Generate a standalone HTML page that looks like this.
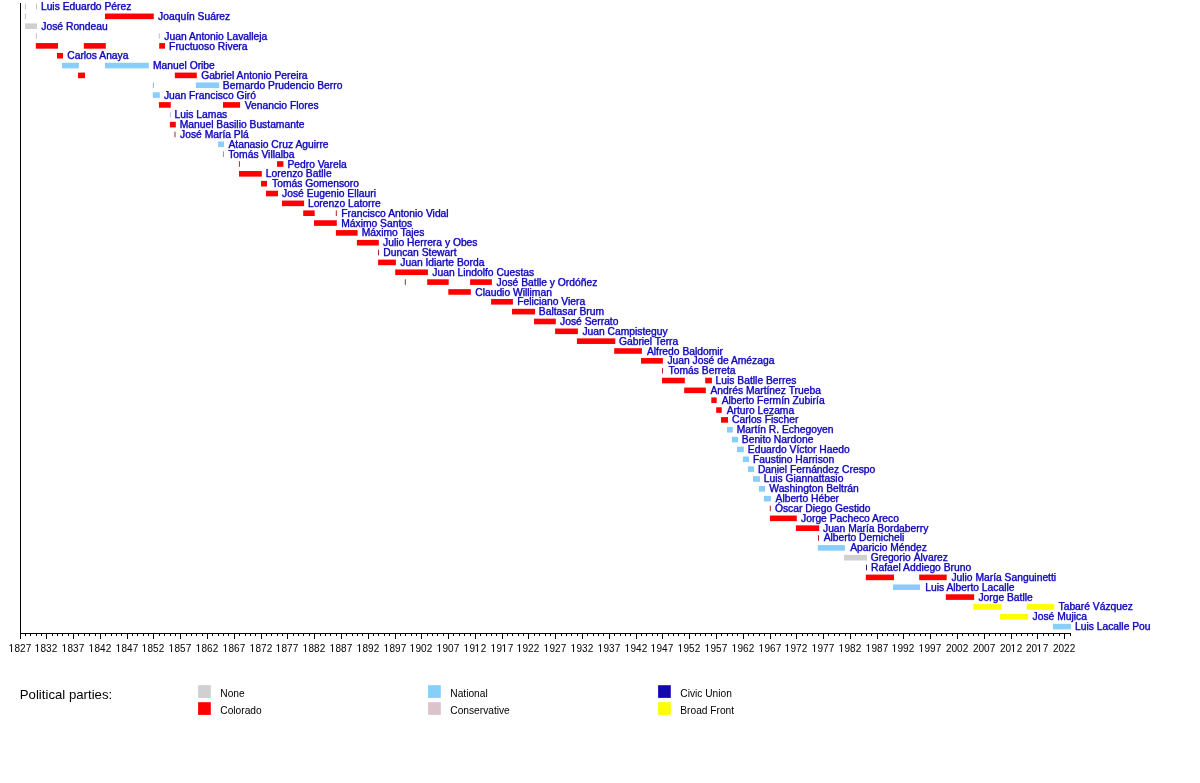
<!DOCTYPE html>
<html><head><meta charset="utf-8"><style>
html,body{margin:0;padding:0;background:#fff;width:1200px;height:783px;overflow:hidden}
body{position:relative;font-family:"Liberation Sans",sans-serif}
#w{position:absolute;left:0;top:0;width:1200px;height:783px;filter:blur(0.3px)}
.t{position:absolute;font-size:10.3px;line-height:12px;white-space:nowrap;color:#1408b4;-webkit-text-stroke:0.25px #1408b4;text-shadow:0 0 1px rgba(40,40,255,0.6)}
.y{position:absolute;font-size:10px;line-height:12px;white-space:nowrap;color:#000;width:40px;text-align:center}
.lg{position:absolute;font-size:10.2px;line-height:12px;white-space:nowrap;color:#000}
svg.bg{position:absolute;left:0;top:0}
.one{display:inline-block;width:0.5562em;height:1.1172em;vertical-align:-0.2119em;fill:#000}
</style></head><body><div id="w">
<svg class="bg" width="1200" height="783" viewBox="0 0 1200 783">
<rect x="24.90" y="3.70" width="1.00" height="5.6" fill="#c4c4c4"/>
<rect x="36.00" y="3.70" width="1.00" height="5.6" fill="#c4c4c4"/>
<rect x="24.90" y="13.54" width="1.00" height="5.6" fill="#c4c4c4"/>
<rect x="105.00" y="13.54" width="48.75" height="5.6" fill="#ff0000"/>
<rect x="25.10" y="23.39" width="11.90" height="5.6" fill="#d0d0d0"/>
<rect x="35.90" y="33.23" width="1.00" height="5.6" fill="#c4c4c4"/>
<rect x="158.80" y="33.23" width="1.00" height="5.6" fill="#c4c4c4"/>
<rect x="35.80" y="43.07" width="22.20" height="5.6" fill="#ff0000"/>
<rect x="83.80" y="43.07" width="22.00" height="5.6" fill="#ff0000"/>
<rect x="159.20" y="43.07" width="5.80" height="5.6" fill="#ff0000"/>
<rect x="57.00" y="52.92" width="6.00" height="5.6" fill="#ff0000"/>
<rect x="62.00" y="62.76" width="16.80" height="5.6" fill="#87cefa"/>
<rect x="105.00" y="62.76" width="43.80" height="5.6" fill="#87cefa"/>
<rect x="78.00" y="72.60" width="7.00" height="5.6" fill="#ff0000"/>
<rect x="174.80" y="72.60" width="22.00" height="5.6" fill="#ff0000"/>
<rect x="152.90" y="82.44" width="1.00" height="5.6" fill="#9ab4c8"/>
<rect x="195.90" y="82.44" width="23.30" height="5.6" fill="#87cefa"/>
<rect x="152.80" y="92.29" width="7.00" height="5.6" fill="#87cefa"/>
<rect x="158.90" y="102.13" width="11.90" height="5.6" fill="#ff0000"/>
<rect x="223.00" y="102.13" width="17.10" height="5.6" fill="#ff0000"/>
<rect x="169.80" y="111.97" width="1.00" height="5.6" fill="#c4c4c4"/>
<rect x="169.90" y="121.82" width="5.90" height="5.6" fill="#ff0000"/>
<rect x="174.50" y="131.66" width="1.00" height="5.6" fill="#b0242a"/>
<rect x="218.10" y="141.50" width="5.90" height="5.6" fill="#87cefa"/>
<rect x="222.90" y="151.34" width="1.00" height="5.6" fill="#8a9aaa"/>
<rect x="238.90" y="161.19" width="1.00" height="5.6" fill="#b0242a"/>
<rect x="277.00" y="161.19" width="6.40" height="5.6" fill="#ff0000"/>
<rect x="239.00" y="171.03" width="22.80" height="5.6" fill="#ff0000"/>
<rect x="261.00" y="180.87" width="6.00" height="5.6" fill="#ff0000"/>
<rect x="266.00" y="190.72" width="12.00" height="5.6" fill="#ff0000"/>
<rect x="282.00" y="200.56" width="22.10" height="5.6" fill="#ff0000"/>
<rect x="303.20" y="210.40" width="11.50" height="5.6" fill="#ff0000"/>
<rect x="335.80" y="210.40" width="1.00" height="5.6" fill="#b0242a"/>
<rect x="314.00" y="220.25" width="22.80" height="5.6" fill="#ff0000"/>
<rect x="335.90" y="230.09" width="21.70" height="5.6" fill="#ff0000"/>
<rect x="356.90" y="239.93" width="21.90" height="5.6" fill="#ff0000"/>
<rect x="378.00" y="249.77" width="1.00" height="5.6" fill="#b0242a"/>
<rect x="378.10" y="259.62" width="17.80" height="5.6" fill="#ff0000"/>
<rect x="395.20" y="269.46" width="32.70" height="5.6" fill="#ff0000"/>
<rect x="404.80" y="279.30" width="1.00" height="5.6" fill="#b0242a"/>
<rect x="427.20" y="279.30" width="21.50" height="5.6" fill="#ff0000"/>
<rect x="470.10" y="279.30" width="21.80" height="5.6" fill="#ff0000"/>
<rect x="448.30" y="289.15" width="22.50" height="5.6" fill="#ff0000"/>
<rect x="491.10" y="298.99" width="21.80" height="5.6" fill="#ff0000"/>
<rect x="512.00" y="308.83" width="23.10" height="5.6" fill="#ff0000"/>
<rect x="534.00" y="318.68" width="21.80" height="5.6" fill="#ff0000"/>
<rect x="555.10" y="328.52" width="22.80" height="5.6" fill="#ff0000"/>
<rect x="576.90" y="338.36" width="38.40" height="5.6" fill="#ff0000"/>
<rect x="614.20" y="348.20" width="27.70" height="5.6" fill="#ff0000"/>
<rect x="641.00" y="358.05" width="21.90" height="5.6" fill="#ff0000"/>
<rect x="662.00" y="367.89" width="1.00" height="5.6" fill="#b0242a"/>
<rect x="662.00" y="377.73" width="22.80" height="5.6" fill="#ff0000"/>
<rect x="705.20" y="377.73" width="6.70" height="5.6" fill="#ff0000"/>
<rect x="684.20" y="387.58" width="21.60" height="5.6" fill="#ff0000"/>
<rect x="711.30" y="397.42" width="5.40" height="5.6" fill="#ff0000"/>
<rect x="716.20" y="407.26" width="5.50" height="5.6" fill="#ff0000"/>
<rect x="721.00" y="417.11" width="7.00" height="5.6" fill="#ff0000"/>
<rect x="727.00" y="426.95" width="5.80" height="5.6" fill="#87cefa"/>
<rect x="731.90" y="436.79" width="6.10" height="5.6" fill="#87cefa"/>
<rect x="737.00" y="446.63" width="6.80" height="5.6" fill="#87cefa"/>
<rect x="742.90" y="456.48" width="6.10" height="5.6" fill="#87cefa"/>
<rect x="748.00" y="466.32" width="6.00" height="5.6" fill="#87cefa"/>
<rect x="753.00" y="476.16" width="7.00" height="5.6" fill="#87cefa"/>
<rect x="758.90" y="486.01" width="6.10" height="5.6" fill="#87cefa"/>
<rect x="763.90" y="495.85" width="7.00" height="5.6" fill="#87cefa"/>
<rect x="769.80" y="505.69" width="1.00" height="5.6" fill="#b0242a"/>
<rect x="769.90" y="515.54" width="26.90" height="5.6" fill="#ff0000"/>
<rect x="795.90" y="525.38" width="23.30" height="5.6" fill="#ff0000"/>
<rect x="818.00" y="535.22" width="1.00" height="5.6" fill="#b0242a"/>
<rect x="817.90" y="545.07" width="27.00" height="5.6" fill="#87cefa"/>
<rect x="844.00" y="554.91" width="23.00" height="5.6" fill="#d0d0d0"/>
<rect x="866.00" y="564.75" width="1.00" height="5.6" fill="#202070"/>
<rect x="865.80" y="574.59" width="28.20" height="5.6" fill="#ff0000"/>
<rect x="919.20" y="574.59" width="27.50" height="5.6" fill="#ff0000"/>
<rect x="893.00" y="584.44" width="27.00" height="5.6" fill="#87cefa"/>
<rect x="945.80" y="594.28" width="28.40" height="5.6" fill="#ff0000"/>
<rect x="973.30" y="604.12" width="28.00" height="5.6" fill="#ffff00"/>
<rect x="1026.70" y="604.12" width="27.50" height="5.6" fill="#ffff00"/>
<rect x="1000.00" y="613.97" width="28.00" height="5.6" fill="#ffff00"/>
<rect x="1053.00" y="623.81" width="17.90" height="5.6" fill="#87cefa"/>
<rect x="20" y="3" width="1" height="631" fill="#000"/>
<rect x="20" y="633" width="1051" height="1" fill="#000"/>
<rect x="20" y="633" width="1" height="6" fill="#000"/>
<rect x="25" y="633" width="1" height="3" fill="#000"/>
<rect x="30" y="633" width="1" height="3" fill="#000"/>
<rect x="36" y="633" width="1" height="3" fill="#000"/>
<rect x="41" y="633" width="1" height="3" fill="#000"/>
<rect x="46" y="633" width="1" height="6" fill="#000"/>
<rect x="52" y="633" width="1" height="3" fill="#000"/>
<rect x="57" y="633" width="1" height="3" fill="#000"/>
<rect x="62" y="633" width="1" height="3" fill="#000"/>
<rect x="68" y="633" width="1" height="3" fill="#000"/>
<rect x="73" y="633" width="1" height="6" fill="#000"/>
<rect x="78" y="633" width="1" height="3" fill="#000"/>
<rect x="84" y="633" width="1" height="3" fill="#000"/>
<rect x="89" y="633" width="1" height="3" fill="#000"/>
<rect x="95" y="633" width="1" height="3" fill="#000"/>
<rect x="100" y="633" width="1" height="6" fill="#000"/>
<rect x="105" y="633" width="1" height="3" fill="#000"/>
<rect x="111" y="633" width="1" height="3" fill="#000"/>
<rect x="116" y="633" width="1" height="3" fill="#000"/>
<rect x="121" y="633" width="1" height="3" fill="#000"/>
<rect x="127" y="633" width="1" height="6" fill="#000"/>
<rect x="132" y="633" width="1" height="3" fill="#000"/>
<rect x="137" y="633" width="1" height="3" fill="#000"/>
<rect x="143" y="633" width="1" height="3" fill="#000"/>
<rect x="148" y="633" width="1" height="3" fill="#000"/>
<rect x="153" y="633" width="1" height="6" fill="#000"/>
<rect x="159" y="633" width="1" height="3" fill="#000"/>
<rect x="164" y="633" width="1" height="3" fill="#000"/>
<rect x="170" y="633" width="1" height="3" fill="#000"/>
<rect x="175" y="633" width="1" height="3" fill="#000"/>
<rect x="180" y="633" width="1" height="6" fill="#000"/>
<rect x="186" y="633" width="1" height="3" fill="#000"/>
<rect x="191" y="633" width="1" height="3" fill="#000"/>
<rect x="196" y="633" width="1" height="3" fill="#000"/>
<rect x="202" y="633" width="1" height="3" fill="#000"/>
<rect x="207" y="633" width="1" height="6" fill="#000"/>
<rect x="212" y="633" width="1" height="3" fill="#000"/>
<rect x="218" y="633" width="1" height="3" fill="#000"/>
<rect x="223" y="633" width="1" height="3" fill="#000"/>
<rect x="228" y="633" width="1" height="3" fill="#000"/>
<rect x="234" y="633" width="1" height="6" fill="#000"/>
<rect x="239" y="633" width="1" height="3" fill="#000"/>
<rect x="245" y="633" width="1" height="3" fill="#000"/>
<rect x="250" y="633" width="1" height="3" fill="#000"/>
<rect x="255" y="633" width="1" height="3" fill="#000"/>
<rect x="261" y="633" width="1" height="6" fill="#000"/>
<rect x="266" y="633" width="1" height="3" fill="#000"/>
<rect x="271" y="633" width="1" height="3" fill="#000"/>
<rect x="277" y="633" width="1" height="3" fill="#000"/>
<rect x="282" y="633" width="1" height="3" fill="#000"/>
<rect x="287" y="633" width="1" height="6" fill="#000"/>
<rect x="293" y="633" width="1" height="3" fill="#000"/>
<rect x="298" y="633" width="1" height="3" fill="#000"/>
<rect x="303" y="633" width="1" height="3" fill="#000"/>
<rect x="309" y="633" width="1" height="3" fill="#000"/>
<rect x="314" y="633" width="1" height="6" fill="#000"/>
<rect x="320" y="633" width="1" height="3" fill="#000"/>
<rect x="325" y="633" width="1" height="3" fill="#000"/>
<rect x="330" y="633" width="1" height="3" fill="#000"/>
<rect x="336" y="633" width="1" height="3" fill="#000"/>
<rect x="341" y="633" width="1" height="6" fill="#000"/>
<rect x="346" y="633" width="1" height="3" fill="#000"/>
<rect x="352" y="633" width="1" height="3" fill="#000"/>
<rect x="357" y="633" width="1" height="3" fill="#000"/>
<rect x="362" y="633" width="1" height="3" fill="#000"/>
<rect x="368" y="633" width="1" height="6" fill="#000"/>
<rect x="373" y="633" width="1" height="3" fill="#000"/>
<rect x="378" y="633" width="1" height="3" fill="#000"/>
<rect x="384" y="633" width="1" height="3" fill="#000"/>
<rect x="389" y="633" width="1" height="3" fill="#000"/>
<rect x="395" y="633" width="1" height="6" fill="#000"/>
<rect x="400" y="633" width="1" height="3" fill="#000"/>
<rect x="405" y="633" width="1" height="3" fill="#000"/>
<rect x="411" y="633" width="1" height="3" fill="#000"/>
<rect x="416" y="633" width="1" height="3" fill="#000"/>
<rect x="421" y="633" width="1" height="6" fill="#000"/>
<rect x="427" y="633" width="1" height="3" fill="#000"/>
<rect x="432" y="633" width="1" height="3" fill="#000"/>
<rect x="437" y="633" width="1" height="3" fill="#000"/>
<rect x="443" y="633" width="1" height="3" fill="#000"/>
<rect x="448" y="633" width="1" height="6" fill="#000"/>
<rect x="453" y="633" width="1" height="3" fill="#000"/>
<rect x="459" y="633" width="1" height="3" fill="#000"/>
<rect x="464" y="633" width="1" height="3" fill="#000"/>
<rect x="470" y="633" width="1" height="3" fill="#000"/>
<rect x="475" y="633" width="1" height="6" fill="#000"/>
<rect x="480" y="633" width="1" height="3" fill="#000"/>
<rect x="486" y="633" width="1" height="3" fill="#000"/>
<rect x="491" y="633" width="1" height="3" fill="#000"/>
<rect x="496" y="633" width="1" height="3" fill="#000"/>
<rect x="502" y="633" width="1" height="6" fill="#000"/>
<rect x="507" y="633" width="1" height="3" fill="#000"/>
<rect x="512" y="633" width="1" height="3" fill="#000"/>
<rect x="518" y="633" width="1" height="3" fill="#000"/>
<rect x="523" y="633" width="1" height="3" fill="#000"/>
<rect x="528" y="633" width="1" height="6" fill="#000"/>
<rect x="534" y="633" width="1" height="3" fill="#000"/>
<rect x="539" y="633" width="1" height="3" fill="#000"/>
<rect x="545" y="633" width="1" height="3" fill="#000"/>
<rect x="550" y="633" width="1" height="3" fill="#000"/>
<rect x="555" y="633" width="1" height="6" fill="#000"/>
<rect x="561" y="633" width="1" height="3" fill="#000"/>
<rect x="566" y="633" width="1" height="3" fill="#000"/>
<rect x="571" y="633" width="1" height="3" fill="#000"/>
<rect x="577" y="633" width="1" height="3" fill="#000"/>
<rect x="582" y="633" width="1" height="6" fill="#000"/>
<rect x="587" y="633" width="1" height="3" fill="#000"/>
<rect x="593" y="633" width="1" height="3" fill="#000"/>
<rect x="598" y="633" width="1" height="3" fill="#000"/>
<rect x="603" y="633" width="1" height="3" fill="#000"/>
<rect x="609" y="633" width="1" height="6" fill="#000"/>
<rect x="614" y="633" width="1" height="3" fill="#000"/>
<rect x="620" y="633" width="1" height="3" fill="#000"/>
<rect x="625" y="633" width="1" height="3" fill="#000"/>
<rect x="630" y="633" width="1" height="3" fill="#000"/>
<rect x="636" y="633" width="1" height="6" fill="#000"/>
<rect x="641" y="633" width="1" height="3" fill="#000"/>
<rect x="646" y="633" width="1" height="3" fill="#000"/>
<rect x="652" y="633" width="1" height="3" fill="#000"/>
<rect x="657" y="633" width="1" height="3" fill="#000"/>
<rect x="662" y="633" width="1" height="6" fill="#000"/>
<rect x="668" y="633" width="1" height="3" fill="#000"/>
<rect x="673" y="633" width="1" height="3" fill="#000"/>
<rect x="678" y="633" width="1" height="3" fill="#000"/>
<rect x="684" y="633" width="1" height="3" fill="#000"/>
<rect x="689" y="633" width="1" height="6" fill="#000"/>
<rect x="695" y="633" width="1" height="3" fill="#000"/>
<rect x="700" y="633" width="1" height="3" fill="#000"/>
<rect x="705" y="633" width="1" height="3" fill="#000"/>
<rect x="711" y="633" width="1" height="3" fill="#000"/>
<rect x="716" y="633" width="1" height="6" fill="#000"/>
<rect x="721" y="633" width="1" height="3" fill="#000"/>
<rect x="727" y="633" width="1" height="3" fill="#000"/>
<rect x="732" y="633" width="1" height="3" fill="#000"/>
<rect x="737" y="633" width="1" height="3" fill="#000"/>
<rect x="743" y="633" width="1" height="6" fill="#000"/>
<rect x="748" y="633" width="1" height="3" fill="#000"/>
<rect x="753" y="633" width="1" height="3" fill="#000"/>
<rect x="759" y="633" width="1" height="3" fill="#000"/>
<rect x="764" y="633" width="1" height="3" fill="#000"/>
<rect x="770" y="633" width="1" height="6" fill="#000"/>
<rect x="775" y="633" width="1" height="3" fill="#000"/>
<rect x="780" y="633" width="1" height="3" fill="#000"/>
<rect x="786" y="633" width="1" height="3" fill="#000"/>
<rect x="791" y="633" width="1" height="3" fill="#000"/>
<rect x="796" y="633" width="1" height="6" fill="#000"/>
<rect x="802" y="633" width="1" height="3" fill="#000"/>
<rect x="807" y="633" width="1" height="3" fill="#000"/>
<rect x="812" y="633" width="1" height="3" fill="#000"/>
<rect x="818" y="633" width="1" height="3" fill="#000"/>
<rect x="823" y="633" width="1" height="6" fill="#000"/>
<rect x="828" y="633" width="1" height="3" fill="#000"/>
<rect x="834" y="633" width="1" height="3" fill="#000"/>
<rect x="839" y="633" width="1" height="3" fill="#000"/>
<rect x="845" y="633" width="1" height="3" fill="#000"/>
<rect x="850" y="633" width="1" height="6" fill="#000"/>
<rect x="855" y="633" width="1" height="3" fill="#000"/>
<rect x="861" y="633" width="1" height="3" fill="#000"/>
<rect x="866" y="633" width="1" height="3" fill="#000"/>
<rect x="871" y="633" width="1" height="3" fill="#000"/>
<rect x="877" y="633" width="1" height="6" fill="#000"/>
<rect x="882" y="633" width="1" height="3" fill="#000"/>
<rect x="887" y="633" width="1" height="3" fill="#000"/>
<rect x="893" y="633" width="1" height="3" fill="#000"/>
<rect x="898" y="633" width="1" height="3" fill="#000"/>
<rect x="903" y="633" width="1" height="6" fill="#000"/>
<rect x="909" y="633" width="1" height="3" fill="#000"/>
<rect x="914" y="633" width="1" height="3" fill="#000"/>
<rect x="920" y="633" width="1" height="3" fill="#000"/>
<rect x="925" y="633" width="1" height="3" fill="#000"/>
<rect x="930" y="633" width="1" height="6" fill="#000"/>
<rect x="936" y="633" width="1" height="3" fill="#000"/>
<rect x="941" y="633" width="1" height="3" fill="#000"/>
<rect x="946" y="633" width="1" height="3" fill="#000"/>
<rect x="952" y="633" width="1" height="3" fill="#000"/>
<rect x="957" y="633" width="1" height="6" fill="#000"/>
<rect x="962" y="633" width="1" height="3" fill="#000"/>
<rect x="968" y="633" width="1" height="3" fill="#000"/>
<rect x="973" y="633" width="1" height="3" fill="#000"/>
<rect x="978" y="633" width="1" height="3" fill="#000"/>
<rect x="984" y="633" width="1" height="6" fill="#000"/>
<rect x="989" y="633" width="1" height="3" fill="#000"/>
<rect x="995" y="633" width="1" height="3" fill="#000"/>
<rect x="1000" y="633" width="1" height="3" fill="#000"/>
<rect x="1005" y="633" width="1" height="3" fill="#000"/>
<rect x="1011" y="633" width="1" height="6" fill="#000"/>
<rect x="1016" y="633" width="1" height="3" fill="#000"/>
<rect x="1021" y="633" width="1" height="3" fill="#000"/>
<rect x="1027" y="633" width="1" height="3" fill="#000"/>
<rect x="1032" y="633" width="1" height="3" fill="#000"/>
<rect x="1037" y="633" width="1" height="6" fill="#000"/>
<rect x="1043" y="633" width="1" height="3" fill="#000"/>
<rect x="1048" y="633" width="1" height="3" fill="#000"/>
<rect x="1053" y="633" width="1" height="3" fill="#000"/>
<rect x="1059" y="633" width="1" height="3" fill="#000"/>
<rect x="1064" y="633" width="1" height="6" fill="#000"/>
<rect x="1070" y="633" width="1" height="3" fill="#000"/>
<rect x="198.1" y="685.2" width="12.7" height="12.7" fill="#d0d0d0"/>
<rect x="198.1" y="702.2" width="12.7" height="12.7" fill="#ff0000"/>
<rect x="428.1" y="685.2" width="12.7" height="12.7" fill="#87cefa"/>
<rect x="428.1" y="702.2" width="12.7" height="12.7" fill="#dcc3cb"/>
<rect x="658.1" y="685.2" width="12.7" height="12.7" fill="#1408b0"/>
<rect x="658.1" y="702.2" width="12.7" height="12.7" fill="#ffff00"/>
</svg>
<div class="t" style="left:40.91px;top:1.20px">Luis Eduardo Pérez</div>
<div class="t" style="left:158.09px;top:11.04px">Joaquín Suárez</div>
<div class="t" style="left:41.34px;top:20.88px">José Rondeau</div>
<div class="t" style="left:164.29px;top:30.72px">Juan Antonio Lavalleja</div>
<div class="t" style="left:169.11px;top:40.55px">Fructuoso Rivera</div>
<div class="t" style="left:67.23px;top:50.39px">Carlos Anaya</div>
<div class="t" style="left:153.01px;top:60.23px">Manuel Oribe</div>
<div class="t" style="left:201.13px;top:70.07px">Gabriel Antonio Pereira</div>
<div class="t" style="left:222.81px;top:79.91px">Bernardo Prudencio Berro</div>
<div class="t" style="left:163.89px;top:89.75px">Juan Francisco Giró</div>
<div class="t" style="left:244.70px;top:99.58px">Venancio Flores</div>
<div class="t" style="left:174.61px;top:109.42px">Luis Lamas</div>
<div class="t" style="left:179.71px;top:119.26px">Manuel Basilio Bustamante</div>
<div class="t" style="left:180.09px;top:129.10px">José María Plá</div>
<div class="t" style="left:228.43px;top:138.94px">Atanasio Cruz Aguirre</div>
<div class="t" style="left:228.22px;top:148.78px">Tomás Villalba</div>
<div class="t" style="left:287.41px;top:158.62px">Pedro Varela</div>
<div class="t" style="left:265.81px;top:168.45px">Lorenzo Batlle</div>
<div class="t" style="left:272.02px;top:178.29px">Tomás Gomensoro</div>
<div class="t" style="left:282.09px;top:188.13px">José Eugenio Ellauri</div>
<div class="t" style="left:307.91px;top:197.97px">Lorenzo Latorre</div>
<div class="t" style="left:341.21px;top:207.81px">Francisco Antonio Vidal</div>
<div class="t" style="left:341.21px;top:217.65px">Máximo Santos</div>
<div class="t" style="left:361.71px;top:227.49px">Máximo Tajes</div>
<div class="t" style="left:383.09px;top:237.32px">Julio Herrera y Obes</div>
<div class="t" style="left:383.31px;top:247.16px">Duncan Stewart</div>
<div class="t" style="left:400.29px;top:257.00px">Juan Idiarte Borda</div>
<div class="t" style="left:432.29px;top:266.84px">Juan Lindolfo Cuestas</div>
<div class="t" style="left:496.59px;top:276.68px">José Batlle y Ordóñez</div>
<div class="t" style="left:475.23px;top:286.52px">Claudio Williman</div>
<div class="t" style="left:517.21px;top:296.35px">Feliciano Viera</div>
<div class="t" style="left:538.81px;top:306.19px">Baltasar Brum</div>
<div class="t" style="left:560.09px;top:316.03px">José Serrato</div>
<div class="t" style="left:582.39px;top:325.87px">Juan Campisteguy</div>
<div class="t" style="left:618.93px;top:335.71px">Gabriel Terra</div>
<div class="t" style="left:646.93px;top:345.55px">Alfredo Baldomir</div>
<div class="t" style="left:667.39px;top:355.39px">Juan José de Amézaga</div>
<div class="t" style="left:668.62px;top:365.22px">Tomás Berreta</div>
<div class="t" style="left:715.61px;top:375.06px">Luis Batlle Berres</div>
<div class="t" style="left:710.43px;top:384.90px">Andrés Martínez Trueba</div>
<div class="t" style="left:721.63px;top:394.74px">Alberto Fermín Zubiría</div>
<div class="t" style="left:726.63px;top:404.58px">Arturo Lezama</div>
<div class="t" style="left:732.03px;top:414.42px">Carlos Fischer</div>
<div class="t" style="left:736.81px;top:424.26px">Martín R. Echegoyen</div>
<div class="t" style="left:741.81px;top:434.09px">Benito Nardone</div>
<div class="t" style="left:747.81px;top:443.93px">Eduardo Víctor Haedo</div>
<div class="t" style="left:753.01px;top:453.77px">Faustino Harrison</div>
<div class="t" style="left:757.91px;top:463.61px">Daniel Fernández Crespo</div>
<div class="t" style="left:763.81px;top:473.45px">Luis Giannattasio</div>
<div class="t" style="left:769.30px;top:483.29px">Washington Beltrán</div>
<div class="t" style="left:775.53px;top:493.12px">Alberto Héber</div>
<div class="t" style="left:774.96px;top:502.96px">Óscar Diego Gestido</div>
<div class="t" style="left:801.09px;top:512.80px">Jorge Pacheco Areco</div>
<div class="t" style="left:822.99px;top:522.64px">Juan María Bordaberry</div>
<div class="t" style="left:823.63px;top:532.48px">Alberto Demicheli</div>
<div class="t" style="left:850.23px;top:542.32px">Aparicio Méndez</div>
<div class="t" style="left:870.73px;top:552.16px">Gregorio Álvarez</div>
<div class="t" style="left:871.01px;top:561.99px">Rafael Addiego Bruno</div>
<div class="t" style="left:951.39px;top:571.83px">Julio María Sanguinetti</div>
<div class="t" style="left:925.21px;top:581.67px">Luis Alberto Lacalle</div>
<div class="t" style="left:978.39px;top:591.51px">Jorge Batlle</div>
<div class="t" style="left:1058.52px;top:601.35px">Tabaré Vázquez</div>
<div class="t" style="left:1032.59px;top:611.19px">José Mujica</div>
<div class="t" style="left:1075.01px;top:621.03px">Luis Lacalle Pou</div>
<div class="y" style="left:0.1px;top:642.5px"><svg class="one" viewBox="0 0 1139 2288"><path d="M425 1860V440L100 670V495L440 235H625V1860Z"/></svg>827</div>
<div class="y" style="left:26.1px;top:642.5px"><svg class="one" viewBox="0 0 1139 2288"><path d="M425 1860V440L100 670V495L440 235H625V1860Z"/></svg>832</div>
<div class="y" style="left:53.1px;top:642.5px"><svg class="one" viewBox="0 0 1139 2288"><path d="M425 1860V440L100 670V495L440 235H625V1860Z"/></svg>837</div>
<div class="y" style="left:80.1px;top:642.5px"><svg class="one" viewBox="0 0 1139 2288"><path d="M425 1860V440L100 670V495L440 235H625V1860Z"/></svg>842</div>
<div class="y" style="left:107.1px;top:642.5px"><svg class="one" viewBox="0 0 1139 2288"><path d="M425 1860V440L100 670V495L440 235H625V1860Z"/></svg>847</div>
<div class="y" style="left:133.1px;top:642.5px"><svg class="one" viewBox="0 0 1139 2288"><path d="M425 1860V440L100 670V495L440 235H625V1860Z"/></svg>852</div>
<div class="y" style="left:160.1px;top:642.5px"><svg class="one" viewBox="0 0 1139 2288"><path d="M425 1860V440L100 670V495L440 235H625V1860Z"/></svg>857</div>
<div class="y" style="left:187.1px;top:642.5px"><svg class="one" viewBox="0 0 1139 2288"><path d="M425 1860V440L100 670V495L440 235H625V1860Z"/></svg>862</div>
<div class="y" style="left:214.1px;top:642.5px"><svg class="one" viewBox="0 0 1139 2288"><path d="M425 1860V440L100 670V495L440 235H625V1860Z"/></svg>867</div>
<div class="y" style="left:241.1px;top:642.5px"><svg class="one" viewBox="0 0 1139 2288"><path d="M425 1860V440L100 670V495L440 235H625V1860Z"/></svg>872</div>
<div class="y" style="left:267.1px;top:642.5px"><svg class="one" viewBox="0 0 1139 2288"><path d="M425 1860V440L100 670V495L440 235H625V1860Z"/></svg>877</div>
<div class="y" style="left:294.1px;top:642.5px"><svg class="one" viewBox="0 0 1139 2288"><path d="M425 1860V440L100 670V495L440 235H625V1860Z"/></svg>882</div>
<div class="y" style="left:321.1px;top:642.5px"><svg class="one" viewBox="0 0 1139 2288"><path d="M425 1860V440L100 670V495L440 235H625V1860Z"/></svg>887</div>
<div class="y" style="left:348.1px;top:642.5px"><svg class="one" viewBox="0 0 1139 2288"><path d="M425 1860V440L100 670V495L440 235H625V1860Z"/></svg>892</div>
<div class="y" style="left:375.1px;top:642.5px"><svg class="one" viewBox="0 0 1139 2288"><path d="M425 1860V440L100 670V495L440 235H625V1860Z"/></svg>897</div>
<div class="y" style="left:401.1px;top:642.5px"><svg class="one" viewBox="0 0 1139 2288"><path d="M425 1860V440L100 670V495L440 235H625V1860Z"/></svg>902</div>
<div class="y" style="left:428.1px;top:642.5px"><svg class="one" viewBox="0 0 1139 2288"><path d="M425 1860V440L100 670V495L440 235H625V1860Z"/></svg>907</div>
<div class="y" style="left:455.1px;top:642.5px"><svg class="one" viewBox="0 0 1139 2288"><path d="M425 1860V440L100 670V495L440 235H625V1860Z"/></svg>9<svg class="one" viewBox="0 0 1139 2288"><path d="M425 1860V440L100 670V495L440 235H625V1860Z"/></svg>2</div>
<div class="y" style="left:482.1px;top:642.5px"><svg class="one" viewBox="0 0 1139 2288"><path d="M425 1860V440L100 670V495L440 235H625V1860Z"/></svg>9<svg class="one" viewBox="0 0 1139 2288"><path d="M425 1860V440L100 670V495L440 235H625V1860Z"/></svg>7</div>
<div class="y" style="left:508.1px;top:642.5px"><svg class="one" viewBox="0 0 1139 2288"><path d="M425 1860V440L100 670V495L440 235H625V1860Z"/></svg>922</div>
<div class="y" style="left:535.1px;top:642.5px"><svg class="one" viewBox="0 0 1139 2288"><path d="M425 1860V440L100 670V495L440 235H625V1860Z"/></svg>927</div>
<div class="y" style="left:562.1px;top:642.5px"><svg class="one" viewBox="0 0 1139 2288"><path d="M425 1860V440L100 670V495L440 235H625V1860Z"/></svg>932</div>
<div class="y" style="left:589.1px;top:642.5px"><svg class="one" viewBox="0 0 1139 2288"><path d="M425 1860V440L100 670V495L440 235H625V1860Z"/></svg>937</div>
<div class="y" style="left:616.1px;top:642.5px"><svg class="one" viewBox="0 0 1139 2288"><path d="M425 1860V440L100 670V495L440 235H625V1860Z"/></svg>942</div>
<div class="y" style="left:642.1px;top:642.5px"><svg class="one" viewBox="0 0 1139 2288"><path d="M425 1860V440L100 670V495L440 235H625V1860Z"/></svg>947</div>
<div class="y" style="left:669.1px;top:642.5px"><svg class="one" viewBox="0 0 1139 2288"><path d="M425 1860V440L100 670V495L440 235H625V1860Z"/></svg>952</div>
<div class="y" style="left:696.1px;top:642.5px"><svg class="one" viewBox="0 0 1139 2288"><path d="M425 1860V440L100 670V495L440 235H625V1860Z"/></svg>957</div>
<div class="y" style="left:723.1px;top:642.5px"><svg class="one" viewBox="0 0 1139 2288"><path d="M425 1860V440L100 670V495L440 235H625V1860Z"/></svg>962</div>
<div class="y" style="left:750.1px;top:642.5px"><svg class="one" viewBox="0 0 1139 2288"><path d="M425 1860V440L100 670V495L440 235H625V1860Z"/></svg>967</div>
<div class="y" style="left:776.1px;top:642.5px"><svg class="one" viewBox="0 0 1139 2288"><path d="M425 1860V440L100 670V495L440 235H625V1860Z"/></svg>972</div>
<div class="y" style="left:803.1px;top:642.5px"><svg class="one" viewBox="0 0 1139 2288"><path d="M425 1860V440L100 670V495L440 235H625V1860Z"/></svg>977</div>
<div class="y" style="left:830.1px;top:642.5px"><svg class="one" viewBox="0 0 1139 2288"><path d="M425 1860V440L100 670V495L440 235H625V1860Z"/></svg>982</div>
<div class="y" style="left:857.1px;top:642.5px"><svg class="one" viewBox="0 0 1139 2288"><path d="M425 1860V440L100 670V495L440 235H625V1860Z"/></svg>987</div>
<div class="y" style="left:883.1px;top:642.5px"><svg class="one" viewBox="0 0 1139 2288"><path d="M425 1860V440L100 670V495L440 235H625V1860Z"/></svg>992</div>
<div class="y" style="left:910.1px;top:642.5px"><svg class="one" viewBox="0 0 1139 2288"><path d="M425 1860V440L100 670V495L440 235H625V1860Z"/></svg>997</div>
<div class="y" style="left:937.1px;top:642.5px">2002</div>
<div class="y" style="left:964.1px;top:642.5px">2007</div>
<div class="y" style="left:991.1px;top:642.5px">20<svg class="one" viewBox="0 0 1139 2288"><path d="M425 1860V440L100 670V495L440 235H625V1860Z"/></svg>2</div>
<div class="y" style="left:1017.1px;top:642.5px">20<svg class="one" viewBox="0 0 1139 2288"><path d="M425 1860V440L100 670V495L440 235H625V1860Z"/></svg>7</div>
<div class="y" style="left:1044.1px;top:642.5px">2022</div>
<div style="position:absolute;left:19.8px;top:686.7px;font-size:13.2px;line-height:16px;white-space:nowrap;color:#000">Political parties:</div>
<div class="lg" style="left:220.3px;top:688px">None</div>
<div class="lg" style="left:220.3px;top:705px">Colorado</div>
<div class="lg" style="left:450.3px;top:688px">National</div>
<div class="lg" style="left:450.3px;top:705px">Conservative</div>
<div class="lg" style="left:680.3px;top:688px">Civic Union</div>
<div class="lg" style="left:680.3px;top:705px">Broad Front</div>
</div></body></html>
